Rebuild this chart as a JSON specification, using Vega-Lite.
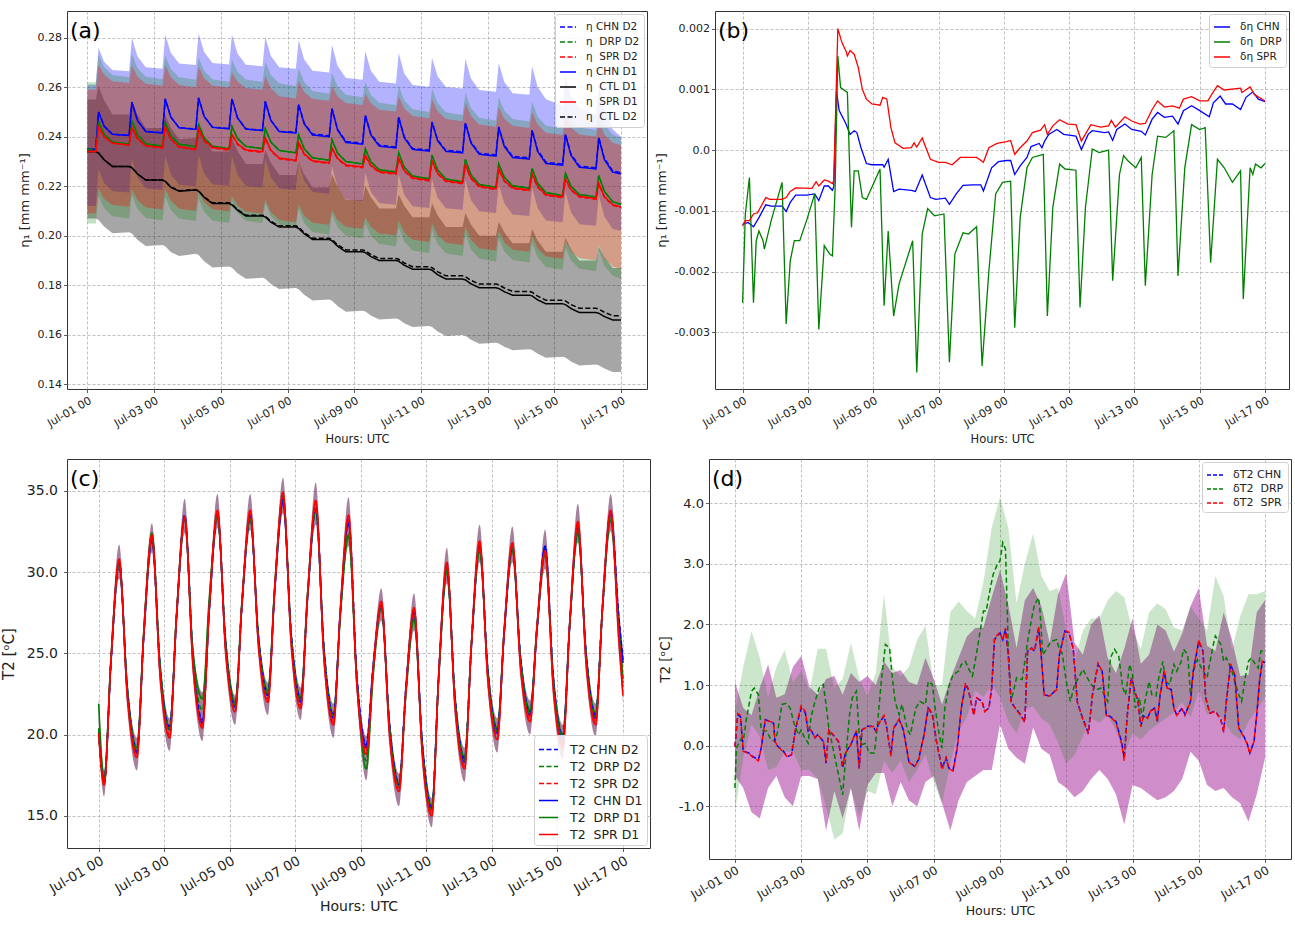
{
"$schema":"https://vega.github.io/schema/vega-lite/v6.json",
"background":"white",
"padding":{"left":0,"top":10,"right":0,"bottom":0},
"config":{
 "font":"DejaVu Sans",
 "view":{"stroke":"#333333","strokeWidth":1},
 "axis":{"domain":false,"grid":true,"gridColor":"#b0b0b0","gridDash":[3,2],"gridWidth":0.8,"tickColor":"#333333","tickSize":3.5,"tickWidth":0.8,"labelColor":"#222222","titleColor":"#222222","titleFontWeight":"normal","labelPadding":2},
 "legend":{"symbolType":"stroke","strokeColor":"#d0d0d0","fillColor":"rgba(255,255,255,0.85)","cornerRadius":3,"symbolStrokeWidth":1.5,"labelColor":"#222222","offset":3,"labelOffset":9},
 "title":{"anchor":"start","fontWeight":"normal","fontSize":22,"offset":-32,"dx":3,"color":"#000000","frame":"group"}
},
"datasets":{
"a":[
{"h":0,"c1":0.235,"c2":0.235,"d":0.235,"s1":0.234,"s2":0.234,"k1":0.234,"k2":0.234,"cl":0.212,"cu":0.261,"dl":0.205,"du":0.262,"sl":0.209,"su":0.259,"kl":0.207,"ku":0.255},
{"h":6,"c1":0.235,"c2":0.235,"d":0.235,"s1":0.234,"s2":0.234,"k1":0.234,"k2":0.234,"cl":0.212,"cu":0.261,"dl":0.205,"du":0.262,"sl":0.209,"su":0.259,"kl":0.207,"ku":0.255},
{"h":8,"c1":0.25,"c2":0.25,"d":0.2462,"s1":0.244,"s2":0.244,"k1":0.2334,"k2":0.2334,"cl":0.227,"cu":0.276,"dl":0.2162,"du":0.2732,"sl":0.219,"su":0.269,"kl":0.2064,"ku":0.2604},
{"h":12,"c1":0.2443,"c2":0.2443,"d":0.2411,"s1":0.24,"s2":0.24,"k1":0.2307,"k2":0.2307,"cl":0.2213,"cu":0.2703,"dl":0.2111,"du":0.2681,"sl":0.215,"su":0.265,"kl":0.2037,"ku":0.2547},
{"h":18,"c1":0.241,"c2":0.241,"d":0.2379,"s1":0.2374,"s2":0.2374,"k1":0.228,"k2":0.228,"cl":0.218,"cu":0.267,"dl":0.2079,"du":0.2649,"sl":0.2124,"su":0.2624,"kl":0.201,"ku":0.249},
{"h":30,"c1":0.2405,"c2":0.2406,"d":0.237,"s1":0.2367,"s2":0.2366,"k1":0.228,"k2":0.228,"cl":0.2175,"cu":0.2665,"dl":0.207,"du":0.264,"sl":0.2117,"su":0.2617,"kl":0.2014,"ku":0.249},
{"h":32,"c1":0.254,"c2":0.254,"d":0.2465,"s1":0.2438,"s2":0.2437,"k1":0.2275,"k2":0.2275,"cl":0.231,"cu":0.28,"dl":0.2165,"du":0.2735,"sl":0.2188,"su":0.2688,"kl":0.2009,"ku":0.2545},
{"h":36,"c1":0.2465,"c2":0.2466,"d":0.2408,"s1":0.2393,"s2":0.2392,"k1":0.225,"k2":0.225,"cl":0.2235,"cu":0.2725,"dl":0.2108,"du":0.2678,"sl":0.2143,"su":0.2643,"kl":0.1984,"ku":0.249},
{"h":42,"c1":0.2421,"c2":0.2422,"d":0.2372,"s1":0.2364,"s2":0.2363,"k1":0.2225,"k2":0.2225,"cl":0.2191,"cu":0.2681,"dl":0.2072,"du":0.2642,"sl":0.2114,"su":0.2614,"kl":0.1959,"ku":0.2435},
{"h":54,"c1":0.2415,"c2":0.2416,"d":0.2362,"s1":0.2356,"s2":0.2355,"k1":0.2225,"k2":0.2225,"cl":0.2185,"cu":0.2675,"dl":0.2062,"du":0.2632,"sl":0.2106,"su":0.2606,"kl":0.1963,"ku":0.2435},
{"h":56,"c1":0.2553,"c2":0.2553,"d":0.2458,"s1":0.244,"s2":0.2439,"k1":0.222,"k2":0.222,"cl":0.2323,"cu":0.2813,"dl":0.2158,"du":0.2728,"sl":0.219,"su":0.269,"kl":0.1958,"ku":0.249},
{"h":60,"c1":0.2479,"c2":0.248,"d":0.2404,"s1":0.2391,"s2":0.239,"k1":0.2196,"k2":0.2197,"cl":0.2249,"cu":0.2739,"dl":0.2104,"du":0.2674,"sl":0.2141,"su":0.2641,"kl":0.1934,"ku":0.2436},
{"h":66,"c1":0.2436,"c2":0.2437,"d":0.237,"s1":0.2359,"s2":0.2358,"k1":0.218,"k2":0.2182,"cl":0.2206,"cu":0.2696,"dl":0.207,"du":0.264,"sl":0.2109,"su":0.2609,"kl":0.1918,"ku":0.239},
{"h":78,"c1":0.243,"c2":0.2431,"d":0.236,"s1":0.235,"s2":0.2347,"k1":0.2185,"k2":0.2187,"cl":0.22,"cu":0.269,"dl":0.206,"du":0.263,"sl":0.21,"su":0.26,"kl":0.1927,"ku":0.2395},
{"h":80,"c1":0.2557,"c2":0.2557,"d":0.245,"s1":0.2432,"s2":0.2429,"k1":0.218,"k2":0.2182,"cl":0.2327,"cu":0.2817,"dl":0.215,"du":0.272,"sl":0.2182,"su":0.2682,"kl":0.1922,"ku":0.245},
{"h":84,"c1":0.2482,"c2":0.2483,"d":0.2396,"s1":0.2386,"s2":0.2383,"k1":0.2155,"k2":0.2157,"cl":0.2252,"cu":0.2742,"dl":0.2096,"du":0.2666,"sl":0.2136,"su":0.2636,"kl":0.1897,"ku":0.2395},
{"h":90,"c1":0.2438,"c2":0.2439,"d":0.2362,"s1":0.2357,"s2":0.2354,"k1":0.213,"k2":0.2133,"cl":0.2208,"cu":0.2698,"dl":0.2062,"du":0.2632,"sl":0.2107,"su":0.2607,"kl":0.1872,"ku":0.234},
{"h":102,"c1":0.2432,"c2":0.2433,"d":0.2352,"s1":0.2349,"s2":0.2346,"k1":0.213,"k2":0.2133,"cl":0.2202,"cu":0.2692,"dl":0.2052,"du":0.2622,"sl":0.2099,"su":0.2599,"kl":0.1876,"ku":0.234},
{"h":104,"c1":0.2553,"c2":0.2553,"d":0.2442,"s1":0.241,"s2":0.2407,"k1":0.2125,"k2":0.2128,"cl":0.2323,"cu":0.2813,"dl":0.2142,"du":0.2712,"sl":0.216,"su":0.266,"kl":0.1871,"ku":0.2395},
{"h":108,"c1":0.2476,"c2":0.2477,"d":0.2393,"s1":0.2372,"s2":0.2369,"k1":0.2103,"k2":0.2106,"cl":0.2246,"cu":0.2736,"dl":0.2093,"du":0.2663,"sl":0.2122,"su":0.2622,"kl":0.1849,"ku":0.2343},
{"h":114,"c1":0.2431,"c2":0.2432,"d":0.2361,"s1":0.2347,"s2":0.2344,"k1":0.208,"k2":0.2083,"cl":0.2201,"cu":0.2691,"dl":0.2061,"du":0.2631,"sl":0.2097,"su":0.2597,"kl":0.1826,"ku":0.229},
{"h":126,"c1":0.2425,"c2":0.2426,"d":0.2352,"s1":0.234,"s2":0.2337,"k1":0.208,"k2":0.2083,"cl":0.2195,"cu":0.2685,"dl":0.2052,"du":0.2622,"sl":0.209,"su":0.259,"kl":0.183,"ku":0.229},
{"h":128,"c1":0.2543,"c2":0.2543,"d":0.2432,"s1":0.2396,"s2":0.2393,"k1":0.2076,"k2":0.2079,"cl":0.2313,"cu":0.2803,"dl":0.2132,"du":0.2702,"sl":0.2146,"su":0.2646,"kl":0.1826,"ku":0.2346},
{"h":132,"c1":0.2466,"c2":0.2467,"d":0.2379,"s1":0.2346,"s2":0.2343,"k1":0.2055,"k2":0.2059,"cl":0.2236,"cu":0.2726,"dl":0.2079,"du":0.2649,"sl":0.2096,"su":0.2596,"kl":0.1805,"ku":0.2295},
{"h":138,"c1":0.2421,"c2":0.2422,"d":0.2345,"s1":0.2314,"s2":0.2311,"k1":0.2035,"k2":0.204,"cl":0.2191,"cu":0.2681,"dl":0.2045,"du":0.2615,"sl":0.2064,"su":0.2564,"kl":0.1785,"ku":0.2245},
{"h":150,"c1":0.2415,"c2":0.2418,"d":0.2335,"s1":0.2305,"s2":0.2302,"k1":0.2035,"k2":0.204,"cl":0.2185,"cu":0.2675,"dl":0.2035,"du":0.2605,"sl":0.2055,"su":0.2555,"kl":0.1789,"ku":0.2245},
{"h":152,"c1":0.253,"c2":0.2531,"d":0.2408,"s1":0.2376,"s2":0.2373,"k1":0.203,"k2":0.2035,"cl":0.23,"cu":0.279,"dl":0.2108,"du":0.2678,"sl":0.2126,"su":0.2626,"kl":0.1784,"ku":0.23},
{"h":156,"c1":0.2452,"c2":0.2455,"d":0.2351,"s1":0.2331,"s2":0.2328,"k1":0.2008,"k2":0.2013,"cl":0.2222,"cu":0.2712,"dl":0.2051,"du":0.2621,"sl":0.2081,"su":0.2581,"kl":0.1762,"ku":0.2248},
{"h":162,"c1":0.2407,"c2":0.2411,"d":0.2315,"s1":0.2303,"s2":0.23,"k1":0.1985,"k2":0.199,"cl":0.2177,"cu":0.2667,"dl":0.2015,"du":0.2585,"sl":0.2053,"su":0.2553,"kl":0.1739,"ku":0.2195},
{"h":174,"c1":0.24,"c2":0.2404,"d":0.2305,"s1":0.2295,"s2":0.2292,"k1":0.1985,"k2":0.199,"cl":0.217,"cu":0.266,"dl":0.2005,"du":0.2575,"sl":0.2045,"su":0.2545,"kl":0.1743,"ku":0.2195},
{"h":176,"c1":0.2512,"c2":0.2514,"d":0.2388,"s1":0.2355,"s2":0.2352,"k1":0.198,"k2":0.1985,"cl":0.2282,"cu":0.2772,"dl":0.2088,"du":0.2658,"sl":0.2105,"su":0.2605,"kl":0.1738,"ku":0.225},
{"h":180,"c1":0.2427,"c2":0.2431,"d":0.2334,"s1":0.2313,"s2":0.231,"k1":0.1958,"k2":0.1964,"cl":0.2197,"cu":0.2687,"dl":0.2034,"du":0.2604,"sl":0.2063,"su":0.2563,"kl":0.1716,"ku":0.2198},
{"h":186,"c1":0.2377,"c2":0.2381,"d":0.23,"s1":0.2286,"s2":0.2283,"k1":0.1935,"k2":0.1943,"cl":0.2147,"cu":0.2637,"dl":0.2,"du":0.257,"sl":0.2036,"su":0.2536,"kl":0.1693,"ku":0.2145},
{"h":198,"c1":0.237,"c2":0.2374,"d":0.229,"s1":0.2278,"s2":0.2275,"k1":0.1935,"k2":0.1943,"cl":0.214,"cu":0.263,"dl":0.199,"du":0.256,"sl":0.2028,"su":0.2528,"kl":0.1697,"ku":0.2145},
{"h":200,"c1":0.2485,"c2":0.2487,"d":0.235,"s1":0.2325,"s2":0.2322,"k1":0.1932,"k2":0.194,"cl":0.2255,"cu":0.2745,"dl":0.205,"du":0.262,"sl":0.2075,"su":0.2575,"kl":0.1694,"ku":0.2202},
{"h":204,"c1":0.2407,"c2":0.2411,"d":0.2299,"s1":0.2285,"s2":0.2282,"k1":0.1916,"k2":0.1924,"cl":0.2177,"cu":0.2667,"dl":0.1999,"du":0.2569,"sl":0.2035,"su":0.2535,"kl":0.1678,"ku":0.2156},
{"h":210,"c1":0.2362,"c2":0.2366,"d":0.2267,"s1":0.2259,"s2":0.2256,"k1":0.19,"k2":0.1908,"cl":0.2132,"cu":0.2622,"dl":0.1967,"du":0.2537,"sl":0.2009,"su":0.2509,"kl":0.1662,"ku":0.211},
{"h":222,"c1":0.2355,"c2":0.2359,"d":0.2258,"s1":0.2252,"s2":0.2249,"k1":0.19,"k2":0.1908,"cl":0.2125,"cu":0.2615,"dl":0.1958,"du":0.2528,"sl":0.2002,"su":0.2502,"kl":0.1666,"ku":0.211},
{"h":224,"c1":0.2478,"c2":0.248,"d":0.2335,"s1":0.2312,"s2":0.2309,"k1":0.1897,"k2":0.1905,"cl":0.2248,"cu":0.2738,"dl":0.2035,"du":0.2605,"sl":0.2062,"su":0.2562,"kl":0.1663,"ku":0.2167},
{"h":228,"c1":0.2396,"c2":0.24,"d":0.2277,"s1":0.2264,"s2":0.2261,"k1":0.1881,"k2":0.189,"cl":0.2166,"cu":0.2656,"dl":0.1977,"du":0.2547,"sl":0.2014,"su":0.2514,"kl":0.1647,"ku":0.2121},
{"h":234,"c1":0.2349,"c2":0.2353,"d":0.2241,"s1":0.2234,"s2":0.2231,"k1":0.1865,"k2":0.1875,"cl":0.2119,"cu":0.2609,"dl":0.1941,"du":0.2511,"sl":0.1984,"su":0.2484,"kl":0.1631,"ku":0.2075},
{"h":246,"c1":0.2342,"c2":0.2346,"d":0.223,"s1":0.2225,"s2":0.2222,"k1":0.1865,"k2":0.1875,"cl":0.2112,"cu":0.2602,"dl":0.193,"du":0.25,"sl":0.1975,"su":0.2475,"kl":0.1635,"ku":0.2075},
{"h":248,"c1":0.2458,"c2":0.246,"d":0.2325,"s1":0.2302,"s2":0.2299,"k1":0.1861,"k2":0.1871,"cl":0.2228,"cu":0.2718,"dl":0.2025,"du":0.2595,"sl":0.2052,"su":0.2552,"kl":0.1631,"ku":0.2131},
{"h":252,"c1":0.2384,"c2":0.2388,"d":0.2266,"s1":0.2253,"s2":0.225,"k1":0.1843,"k2":0.1855,"cl":0.2154,"cu":0.2644,"dl":0.1966,"du":0.2536,"sl":0.2003,"su":0.2503,"kl":0.1613,"ku":0.2083},
{"h":258,"c1":0.2341,"c2":0.2345,"d":0.2229,"s1":0.2222,"s2":0.2219,"k1":0.1825,"k2":0.1838,"cl":0.2111,"cu":0.2601,"dl":0.1929,"du":0.2499,"sl":0.1972,"su":0.2472,"kl":0.1595,"ku":0.2035},
{"h":270,"c1":0.2335,"c2":0.2339,"d":0.2218,"s1":0.2213,"s2":0.221,"k1":0.1825,"k2":0.1838,"cl":0.2105,"cu":0.2595,"dl":0.1918,"du":0.2488,"sl":0.1963,"su":0.2463,"kl":0.1599,"ku":0.2035},
{"h":272,"c1":0.2455,"c2":0.2457,"d":0.2308,"s1":0.2287,"s2":0.2284,"k1":0.1822,"k2":0.1835,"cl":0.2225,"cu":0.2715,"dl":0.2008,"du":0.2578,"sl":0.2037,"su":0.2537,"kl":0.1596,"ku":0.2092},
{"h":276,"c1":0.2375,"c2":0.2379,"d":0.2246,"s1":0.2234,"s2":0.2231,"k1":0.1806,"k2":0.182,"cl":0.2145,"cu":0.2635,"dl":0.1946,"du":0.2516,"sl":0.1984,"su":0.2484,"kl":0.158,"ku":0.2046},
{"h":282,"c1":0.2329,"c2":0.2333,"d":0.2207,"s1":0.22,"s2":0.2197,"k1":0.179,"k2":0.1805,"cl":0.2099,"cu":0.2589,"dl":0.1907,"du":0.2477,"sl":0.195,"su":0.245,"kl":0.1564,"ku":0.2},
{"h":294,"c1":0.2322,"c2":0.2327,"d":0.2196,"s1":0.219,"s2":0.2187,"k1":0.179,"k2":0.1805,"cl":0.2092,"cu":0.2582,"dl":0.1896,"du":0.2466,"sl":0.194,"su":0.244,"kl":0.1568,"ku":0.2},
{"h":296,"c1":0.2438,"c2":0.244,"d":0.229,"s1":0.227,"s2":0.2267,"k1":0.1787,"k2":0.1802,"cl":0.2208,"cu":0.2698,"dl":0.199,"du":0.256,"sl":0.202,"su":0.252,"kl":0.1565,"ku":0.2057},
{"h":300,"c1":0.2361,"c2":0.2366,"d":0.2236,"s1":0.2223,"s2":0.222,"k1":0.1774,"k2":0.1789,"cl":0.2131,"cu":0.2621,"dl":0.1936,"du":0.2506,"sl":0.1973,"su":0.2473,"kl":0.1552,"ku":0.2014},
{"h":306,"c1":0.2316,"c2":0.2321,"d":0.2202,"s1":0.2194,"s2":0.2191,"k1":0.176,"k2":0.1775,"cl":0.2086,"cu":0.2576,"dl":0.1902,"du":0.2472,"sl":0.1944,"su":0.2444,"kl":0.1538,"ku":0.197},
{"h":318,"c1":0.231,"c2":0.2315,"d":0.2192,"s1":0.2185,"s2":0.2182,"k1":0.176,"k2":0.1775,"cl":0.208,"cu":0.257,"dl":0.1892,"du":0.2462,"sl":0.1935,"su":0.2435,"kl":0.1542,"ku":0.197},
{"h":320,"c1":0.2425,"c2":0.2428,"d":0.2272,"s1":0.225,"s2":0.2247,"k1":0.1757,"k2":0.1772,"cl":0.2195,"cu":0.2685,"dl":0.1972,"du":0.2542,"sl":0.2,"su":0.25,"kl":0.1539,"ku":0.2027},
{"h":324,"c1":0.2341,"c2":0.2346,"d":0.2212,"s1":0.2199,"s2":0.2196,"k1":0.1741,"k2":0.1756,"cl":0.2111,"cu":0.2601,"dl":0.1912,"du":0.2482,"sl":0.1949,"su":0.2449,"kl":0.1523,"ku":0.1981},
{"h":330,"c1":0.2292,"c2":0.2297,"d":0.2174,"s1":0.2166,"s2":0.2163,"k1":0.1725,"k2":0.174,"cl":0.2062,"cu":0.2552,"dl":0.1874,"du":0.2444,"sl":0.1916,"su":0.2416,"kl":0.1507,"ku":0.1935},
{"h":342,"c1":0.2285,"c2":0.229,"d":0.2163,"s1":0.2157,"s2":0.2154,"k1":0.1725,"k2":0.174,"cl":0.2055,"cu":0.2525,"dl":0.1863,"du":0.2433,"sl":0.1907,"su":0.2407,"kl":0.1511,"ku":0.1935},
{"h":344,"c1":0.2408,"c2":0.2411,"d":0.2252,"s1":0.223,"s2":0.2227,"k1":0.1722,"k2":0.1737,"cl":0.2178,"cu":0.2648,"dl":0.1952,"du":0.2522,"sl":0.198,"su":0.248,"kl":0.1508,"ku":0.1992},
{"h":348,"c1":0.2325,"c2":0.233,"d":0.22,"s1":0.2187,"s2":0.2184,"k1":0.1706,"k2":0.1722,"cl":0.2095,"cu":0.2565,"dl":0.19,"du":0.247,"sl":0.1937,"su":0.2437,"kl":0.1492,"ku":0.1946},
{"h":354,"c1":0.2277,"c2":0.2282,"d":0.2167,"s1":0.2159,"s2":0.2156,"k1":0.169,"k2":0.1707,"cl":0.2047,"cu":0.2517,"dl":0.1867,"du":0.2437,"sl":0.1909,"su":0.2409,"kl":0.1476,"ku":0.19},
{"h":366,"c1":0.227,"c2":0.2275,"d":0.2157,"s1":0.2151,"s2":0.2148,"k1":0.169,"k2":0.1707,"cl":0.204,"cu":0.249,"dl":0.1857,"du":0.2427,"sl":0.1901,"su":0.2401,"kl":0.148,"ku":0.19},
{"h":368,"c1":0.2395,"c2":0.2398,"d":0.2243,"s1":0.2212,"s2":0.2209,"k1":0.1687,"k2":0.1704,"cl":0.2165,"cu":0.2615,"dl":0.1943,"du":0.2513,"sl":0.1962,"su":0.2462,"kl":0.1477,"ku":0.1957},
{"h":372,"c1":0.2308,"c2":0.2313,"d":0.2179,"s1":0.2159,"s2":0.2156,"k1":0.1674,"k2":0.1691,"cl":0.2078,"cu":0.251,"dl":0.1879,"du":0.2449,"sl":0.1909,"su":0.2409,"kl":0.1464,"ku":0.1914},
{"h":378,"c1":0.2257,"c2":0.2262,"d":0.2138,"s1":0.2126,"s2":0.2123,"k1":0.166,"k2":0.1677,"cl":0.2027,"cu":0.243,"dl":0.1838,"du":0.2408,"sl":0.1876,"su":0.2376,"kl":0.145,"ku":0.187},
{"h":384,"c1":0.225,"c2":0.2255,"d":0.2126,"s1":0.2116,"s2":0.2113,"k1":0.166,"k2":0.1677,"cl":0.202,"cu":0.24,"dl":0.1826,"du":0.2396,"sl":0.1866,"su":0.2366,"kl":0.145,"ku":0.187}
],
"b":[
{"s":"CHN","h":0,"v":-0.00122},{"s":"CHN","h":4,"v":-0.00119},{"s":"CHN","h":8,"v":-0.00126},{"s":"CHN","h":12,"v":-0.00111},{"s":"CHN","h":17,"v":-0.0009},{"s":"CHN","h":21,"v":-0.00092},{"s":"CHN","h":29,"v":-0.00092},{"s":"CHN","h":32,"v":-0.00101},{"s":"CHN","h":35,"v":-0.00086},{"s":"CHN","h":39,"v":-0.00074},{"s":"CHN","h":47,"v":-0.00074},{"s":"CHN","h":53,"v":-0.00072},{"s":"CHN","h":56,"v":-0.00083},{"s":"CHN","h":60,"v":-0.00059},{"s":"CHN","h":63,"v":-0.00059},{"s":"CHN","h":66,"v":-0.00066},{"s":"CHN","h":67,"v":-0.0006},{"s":"CHN","h":69,"v":0.00097},{"s":"CHN","h":71,"v":0.00065},{"s":"CHN","h":76,"v":0.00043},{"s":"CHN","h":79,"v":0.00026},{"s":"CHN","h":82,"v":0.00032},{"s":"CHN","h":84,"v":0.00029},{"s":"CHN","h":87,"v":0.00004},{"s":"CHN","h":91,"v":-0.00022},{"s":"CHN","h":95,"v":-0.00024},{"s":"CHN","h":103,"v":-0.00024},{"s":"CHN","h":104,"v":-0.00028},{"s":"CHN","h":107,"v":-0.00015},{"s":"CHN","h":111,"v":-0.00068},{"s":"CHN","h":115,"v":-0.00064},{"s":"CHN","h":124,"v":-0.00066},{"s":"CHN","h":127,"v":-0.00068},{"s":"CHN","h":132,"v":-0.00041},{"s":"CHN","h":138,"v":-0.00078},{"s":"CHN","h":142,"v":-0.00081},{"s":"CHN","h":149,"v":-0.00079},{"s":"CHN","h":152,"v":-0.00089},{"s":"CHN","h":157,"v":-0.00072},{"s":"CHN","h":162,"v":-0.00058},{"s":"CHN","h":169,"v":-0.00057},{"s":"CHN","h":175,"v":-0.00057},{"s":"CHN","h":177,"v":-0.00067},{"s":"CHN","h":183,"v":-0.00029},{"s":"CHN","h":188,"v":-0.00019},{"s":"CHN","h":194,"v":-0.00017},{"s":"CHN","h":197,"v":-0.00017},{"s":"CHN","h":200,"v":-0.0004},{"s":"CHN","h":204,"v":-0.00026},{"s":"CHN","h":209,"v":-0.00012},{"s":"CHN","h":212,"v":0.00006},{"s":"CHN","h":218,"v":0.00011},{"s":"CHN","h":220,"v":0.00004},{"s":"CHN","h":222,"v":0.00015},{"s":"CHN","h":225,"v":0.00026},{"s":"CHN","h":231,"v":0.00034},{"s":"CHN","h":236,"v":0.00026},{"s":"CHN","h":245,"v":0.00023},{"s":"CHN","h":249,"v":0.00001},{"s":"CHN","h":254,"v":0.00026},{"s":"CHN","h":257,"v":0.00032},{"s":"CHN","h":266,"v":0.00029},{"s":"CHN","h":269,"v":0.0003},{"s":"CHN","h":272,"v":0.00016},{"s":"CHN","h":275,"v":0.00034},{"s":"CHN","h":281,"v":0.00043},{"s":"CHN","h":286,"v":0.00034},{"s":"CHN","h":293,"v":0.00031},{"s":"CHN","h":296,"v":0.00025},{"s":"CHN","h":301,"v":0.00051},{"s":"CHN","h":305,"v":0.00062},{"s":"CHN","h":310,"v":0.00054},{"s":"CHN","h":316,"v":0.00056},{"s":"CHN","h":320,"v":0.00043},{"s":"CHN","h":324,"v":0.00065},{"s":"CHN","h":330,"v":0.00073},{"s":"CHN","h":336,"v":0.00065},{"s":"CHN","h":343,"v":0.00055},{"s":"CHN","h":346,"v":0.00078},{"s":"CHN","h":351,"v":0.00089},{"s":"CHN","h":355,"v":0.00076},{"s":"CHN","h":360,"v":0.00076},{"s":"CHN","h":366,"v":0.00067},{"s":"CHN","h":370,"v":0.00087},{"s":"CHN","h":375,"v":0.00096},{"s":"CHN","h":379,"v":0.00084},{"s":"CHN","h":384,"v":0.0008},
{"s":"DRP","h":0,"v":-0.00251},{"s":"DRP","h":2,"v":-0.00105},{"s":"DRP","h":5,"v":-0.00045},{"s":"DRP","h":8,"v":-0.00251},{"s":"DRP","h":10,"v":-0.00149},{"s":"DRP","h":12,"v":-0.00133},{"s":"DRP","h":15,"v":-0.00149},{"s":"DRP","h":16,"v":-0.00163},{"s":"DRP","h":18,"v":-0.00144},{"s":"DRP","h":21,"v":-0.00116},{"s":"DRP","h":29,"v":-0.00053},{"s":"DRP","h":32,"v":-0.00286},{"s":"DRP","h":35,"v":-0.00182},{"s":"DRP","h":38,"v":-0.00149},{"s":"DRP","h":42,"v":-0.00149},{"s":"DRP","h":47,"v":-0.00116},{"s":"DRP","h":53,"v":-0.00072},{"s":"DRP","h":56,"v":-0.00295},{"s":"DRP","h":60,"v":-0.00157},{"s":"DRP","h":64,"v":-0.00171},{"s":"DRP","h":66,"v":-0.00174},{"s":"DRP","h":68,"v":-0.00062},{"s":"DRP","h":70,"v":0.00155},{"s":"DRP","h":72,"v":0.00103},{"s":"DRP","h":77,"v":0.00095},{"s":"DRP","h":80,"v":-0.00127},{"s":"DRP","h":82,"v":-0.00034},{"s":"DRP","h":85,"v":-0.00034},{"s":"DRP","h":88,"v":-0.00078},{"s":"DRP","h":91,"v":-0.00081},{"s":"DRP","h":101,"v":-0.00031},{"s":"DRP","h":104,"v":-0.00256},{"s":"DRP","h":107,"v":-0.00133},{"s":"DRP","h":111,"v":-0.00273},{"s":"DRP","h":115,"v":-0.0022},{"s":"DRP","h":125,"v":-0.00149},{"s":"DRP","h":128,"v":-0.00366},{"s":"DRP","h":132,"v":-0.00138},{"s":"DRP","h":136,"v":-0.00096},{"s":"DRP","h":141,"v":-0.00108},{"s":"DRP","h":148,"v":-0.00105},{"s":"DRP","h":152,"v":-0.00349},{"s":"DRP","h":156,"v":-0.00171},{"s":"DRP","h":162,"v":-0.00136},{"s":"DRP","h":166,"v":-0.00138},{"s":"DRP","h":172,"v":-0.00126},{"s":"DRP","h":176,"v":-0.00355},{"s":"DRP","h":181,"v":-0.00199},{"s":"DRP","h":186,"v":-0.00072},{"s":"DRP","h":191,"v":-0.00053},{"s":"DRP","h":197,"v":-0.00051},{"s":"DRP","h":200,"v":-0.00292},{"s":"DRP","h":204,"v":-0.00111},{"s":"DRP","h":209,"v":-0.00029},{"s":"DRP","h":213,"v":-0.00012},{"s":"DRP","h":221,"v":-0.00007},{"s":"DRP","h":224,"v":-0.00273},{"s":"DRP","h":228,"v":-0.00094},{"s":"DRP","h":233,"v":-0.00023},{"s":"DRP","h":237,"v":-0.00031},{"s":"DRP","h":245,"v":-0.00033},{"s":"DRP","h":248,"v":-0.00259},{"s":"DRP","h":252,"v":-0.00094},{"s":"DRP","h":257,"v":0.00002},{"s":"DRP","h":262,"v":-0.00004},{"s":"DRP","h":269,"v":0.0},{"s":"DRP","h":272,"v":-0.00215},{"s":"DRP","h":277,"v":-0.0004},{"s":"DRP","h":280,"v":-0.00009},{"s":"DRP","h":283,"v":-0.00017},{"s":"DRP","h":289,"v":-0.00029},{"s":"DRP","h":293,"v":-0.00012},{"s":"DRP","h":296,"v":-0.00223},{"s":"DRP","h":301,"v":-0.0004},{"s":"DRP","h":305,"v":0.00023},{"s":"DRP","h":311,"v":0.00021},{"s":"DRP","h":317,"v":0.00032},{"s":"DRP","h":320,"v":-0.00207},{"s":"DRP","h":325,"v":-0.00029},{"s":"DRP","h":330,"v":0.00042},{"s":"DRP","h":336,"v":0.00034},{"s":"DRP","h":340,"v":0.00037},{"s":"DRP","h":344,"v":-0.00185},{"s":"DRP","h":349,"v":-0.00015},{"s":"DRP","h":354,"v":-0.00029},{"s":"DRP","h":360,"v":-0.00053},{"s":"DRP","h":366,"v":-0.00034},{"s":"DRP","h":368,"v":-0.00245},{"s":"DRP","h":373,"v":-0.00029},{"s":"DRP","h":375,"v":-0.0004},{"s":"DRP","h":377,"v":-0.00023},{"s":"DRP","h":381,"v":-0.00029},{"s":"DRP","h":384,"v":-0.00022},
{"s":"SPR","h":0,"v":-0.00125},{"s":"SPR","h":2,"v":-0.00116},{"s":"SPR","h":5,"v":-0.00116},{"s":"SPR","h":8,"v":-0.00105},{"s":"SPR","h":11,"v":-0.00103},{"s":"SPR","h":17,"v":-0.00078},{"s":"SPR","h":20,"v":-0.00081},{"s":"SPR","h":29,"v":-0.00081},{"s":"SPR","h":32,"v":-0.00078},{"s":"SPR","h":35,"v":-0.00068},{"s":"SPR","h":39,"v":-0.00062},{"s":"SPR","h":51,"v":-0.00063},{"s":"SPR","h":54,"v":-0.00052},{"s":"SPR","h":56,"v":-0.00059},{"s":"SPR","h":60,"v":-0.00049},{"s":"SPR","h":63,"v":-0.00051},{"s":"SPR","h":66,"v":-0.00055},{"s":"SPR","h":67,"v":-0.0005},{"s":"SPR","h":70,"v":0.002},{"s":"SPR","h":73,"v":0.00177},{"s":"SPR","h":76,"v":0.00163},{"s":"SPR","h":77,"v":0.00155},{"s":"SPR","h":79,"v":0.00164},{"s":"SPR","h":82,"v":0.00158},{"s":"SPR","h":85,"v":0.00136},{"s":"SPR","h":88,"v":0.001},{"s":"SPR","h":91,"v":0.00084},{"s":"SPR","h":95,"v":0.00076},{"s":"SPR","h":101,"v":0.00074},{"s":"SPR","h":103,"v":0.00087},{"s":"SPR","h":106,"v":0.00084},{"s":"SPR","h":109,"v":0.00037},{"s":"SPR","h":112,"v":0.00012},{"s":"SPR","h":118,"v":0.00003},{"s":"SPR","h":124,"v":0.00004},{"s":"SPR","h":126,"v":0.00012},{"s":"SPR","h":128,"v":0.00005},{"s":"SPR","h":132,"v":0.0002},{"s":"SPR","h":138,"v":-0.00015},{"s":"SPR","h":144,"v":-0.0002},{"s":"SPR","h":149,"v":-0.0002},{"s":"SPR","h":154,"v":-0.00024},{"s":"SPR","h":160,"v":-0.00012},{"s":"SPR","h":172,"v":-0.00012},{"s":"SPR","h":177,"v":-0.0002},{"s":"SPR","h":181,"v":0.00004},{"s":"SPR","h":187,"v":0.00011},{"s":"SPR","h":194,"v":0.00014},{"s":"SPR","h":197,"v":0.00016},{"s":"SPR","h":200,"v":-0.00007},{"s":"SPR","h":204,"v":0.00004},{"s":"SPR","h":209,"v":0.00015},{"s":"SPR","h":213,"v":0.00029},{"s":"SPR","h":219,"v":0.00033},{"s":"SPR","h":222,"v":0.00042},{"s":"SPR","h":224,"v":0.00026},{"s":"SPR","h":228,"v":0.0004},{"s":"SPR","h":233,"v":0.0005},{"s":"SPR","h":239,"v":0.00043},{"s":"SPR","h":245,"v":0.00042},{"s":"SPR","h":249,"v":0.00015},{"s":"SPR","h":256,"v":0.00042},{"s":"SPR","h":263,"v":0.00038},{"s":"SPR","h":269,"v":0.0004},{"s":"SPR","h":271,"v":0.00049},{"s":"SPR","h":274,"v":0.00038},{"s":"SPR","h":281,"v":0.00055},{"s":"SPR","h":286,"v":0.00048},{"s":"SPR","h":292,"v":0.00043},{"s":"SPR","h":296,"v":0.00044},{"s":"SPR","h":301,"v":0.00067},{"s":"SPR","h":305,"v":0.00081},{"s":"SPR","h":310,"v":0.00071},{"s":"SPR","h":316,"v":0.00073},{"s":"SPR","h":321,"v":0.00069},{"s":"SPR","h":324,"v":0.00084},{"s":"SPR","h":330,"v":0.00088},{"s":"SPR","h":336,"v":0.00081},{"s":"SPR","h":342,"v":0.00081},{"s":"SPR","h":344,"v":0.00089},{"s":"SPR","h":349,"v":0.00106},{"s":"SPR","h":354,"v":0.00099},{"s":"SPR","h":366,"v":0.00102},{"s":"SPR","h":367,"v":0.00095},{"s":"SPR","h":373,"v":0.00104},{"s":"SPR","h":376,"v":0.00092},{"s":"SPR","h":384,"v":0.00081}
],
"c":[
{"h":0,"s1":20,"s2":20.1,"c1":20.3,"c2":20.2,"g1":21.9,"g2":20.4,"lo":19.5,"hi":22.3},
{"h":4,"s1":16.9,"s2":17,"c1":17.1,"c2":17,"g1":17.3,"g2":17.1,"lo":16.2,"hi":17.8},
{"h":9,"s1":24.6,"s2":24.5,"c1":24.4,"c2":24.5,"g1":24.7,"g2":24.6,"lo":23.8,"hi":25.3},
{"h":15,"s1":30.8,"s2":30.6,"c1":30.6,"c2":30.5,"g1":30.5,"g2":30.6,"lo":29.6,"hi":31.7},
{"h":21,"s1":22.3,"s2":22.5,"c1":22.6,"c2":22.8,"g1":22.9,"g2":22.7,"lo":21.6,"hi":23.4},
{"h":28,"s1":18.6,"s2":18.8,"c1":18.9,"c2":19,"g1":19.2,"g2":19,"lo":17.8,"hi":19.8},
{"h":33,"s1":26.2,"s2":26.1,"c1":26,"c2":26.1,"g1":26.3,"g2":26.2,"lo":25.4,"hi":26.9},
{"h":39,"s1":32.3,"s2":32.1,"c1":32,"c2":32.1,"g1":32.4,"g2":32.2,"lo":31.2,"hi":33},
{"h":45,"s1":23.6,"s2":23.8,"c1":23.9,"c2":24.1,"g1":24.3,"g2":24,"lo":22.9,"hi":24.8},
{"h":52,"s1":19.8,"s2":20,"c1":20.3,"c2":20.5,"g1":20.4,"g2":20.2,"lo":19,"hi":21},
{"h":57,"s1":27.3,"s2":27.2,"c1":27.1,"c2":27.2,"g1":27.4,"g2":27.3,"lo":26.5,"hi":28},
{"h":63,"s1":33.4,"s2":33.3,"c1":33.4,"c2":33.5,"g1":33.3,"g2":33.2,"lo":32.4,"hi":34.5},
{"h":69,"s1":24.3,"s2":24.5,"c1":24.7,"c2":24.9,"g1":25.2,"g2":24.9,"lo":23.6,"hi":25.6},
{"h":76,"s1":20.4,"s2":20.6,"c1":20.7,"c2":20.9,"g1":22.2,"g2":21.5,"lo":19.6,"hi":22.6},
{"h":81,"s1":27.8,"s2":27.7,"c1":27.6,"c2":27.7,"g1":28.4,"g2":28,"lo":27,"hi":28.8},
{"h":87,"s1":33.8,"s2":33.6,"c1":33.5,"c2":33.6,"g1":33.4,"g2":33.5,"lo":32.7,"hi":34.8},
{"h":93,"s1":25.1,"s2":25.3,"c1":25.4,"c2":25.6,"g1":25.8,"g2":25.5,"lo":24.4,"hi":26.3},
{"h":100,"s1":21.4,"s2":21.5,"c1":21.7,"c2":21.8,"g1":22,"g2":21.8,"lo":20.6,"hi":22.4},
{"h":105,"s1":28.2,"s2":28.1,"c1":28,"c2":28.1,"g1":28.3,"g2":28.2,"lo":27.4,"hi":28.9},
{"h":111,"s1":33.8,"s2":33.6,"c1":33.4,"c2":33.5,"g1":33.3,"g2":33.4,"lo":32.6,"hi":34.8},
{"h":117,"s1":25.5,"s2":25.7,"c1":25.8,"c2":26,"g1":26.1,"g2":25.9,"lo":24.8,"hi":26.6},
{"h":124,"s1":22,"s2":22.2,"c1":22.4,"c2":22.5,"g1":22.7,"g2":22.5,"lo":21.2,"hi":23.2},
{"h":129,"s1":29.1,"s2":29,"c1":28.9,"c2":29,"g1":29.2,"g2":29.1,"lo":28.3,"hi":29.8},
{"h":135,"s1":34.9,"s2":34.6,"c1":34.3,"c2":34.5,"g1":34.6,"g2":34.7,"lo":33.6,"hi":35.8},
{"h":141,"s1":25.6,"s2":25.8,"c1":26,"c2":26.2,"g1":26.2,"g2":26,"lo":24.9,"hi":26.8},
{"h":148,"s1":21.6,"s2":21.8,"c1":22,"c2":22.2,"g1":22.3,"g2":22.1,"lo":20.9,"hi":22.9},
{"h":153,"s1":28.6,"s2":28.5,"c1":28.4,"c2":28.5,"g1":28.7,"g2":28.6,"lo":27.8,"hi":29.3},
{"h":159,"s1":34.4,"s2":34.2,"c1":33.9,"c2":34,"g1":33.8,"g2":34,"lo":32.9,"hi":35.5},
{"h":165,"s1":24.7,"s2":24.9,"c1":25.1,"c2":25.3,"g1":25.3,"g2":25.1,"lo":24,"hi":25.9},
{"h":172,"s1":20.6,"s2":20.8,"c1":21,"c2":21.2,"g1":21.2,"g2":21,"lo":19.8,"hi":21.9},
{"h":177,"s1":27.7,"s2":27.6,"c1":27.5,"c2":27.6,"g1":27.3,"g2":27.5,"lo":26.9,"hi":28.4},
{"h":183,"s1":33.5,"s2":33.3,"c1":33,"c2":33.2,"g1":32.2,"g2":32.4,"lo":31.6,"hi":34.6},
{"h":189,"s1":23.2,"s2":23.4,"c1":23.6,"c2":23.8,"g1":23.5,"g2":23.4,"lo":22.5,"hi":24.3},
{"h":196,"s1":18.8,"s2":19,"c1":19.2,"c2":19.4,"g1":17.9,"g2":18.4,"lo":17.2,"hi":19.9},
{"h":201,"s1":24,"s2":24,"c1":24.1,"c2":24.2,"g1":23.6,"g2":23.8,"lo":23.2,"hi":24.8},
{"h":207,"s1":28.2,"s2":28,"c1":27.9,"c2":28,"g1":27.8,"g2":27.9,"lo":27,"hi":29},
{"h":213,"s1":20,"s2":20.2,"c1":20.5,"c2":20.7,"g1":20.6,"g2":20.4,"lo":19.3,"hi":21.3},
{"h":220,"s1":16.5,"s2":16.7,"c1":16.9,"c2":17,"g1":17,"g2":16.8,"lo":15.6,"hi":17.6},
{"h":225,"s1":22.7,"s2":22.7,"c1":22.8,"c2":22.9,"g1":22.5,"g2":22.6,"lo":21.9,"hi":23.5},
{"h":231,"s1":27.8,"s2":27.7,"c1":27.5,"c2":27.6,"g1":27.1,"g2":27.3,"lo":26.4,"hi":28.7},
{"h":237,"s1":18.8,"s2":19,"c1":19.3,"c2":19.5,"g1":19.4,"g2":19.2,"lo":18.1,"hi":20.1},
{"h":244,"s1":15,"s2":15.2,"c1":15.4,"c2":15.5,"g1":15.6,"g2":15.4,"lo":14.3,"hi":16.1},
{"h":249,"s1":23.6,"s2":23.5,"c1":23.5,"c2":23.6,"g1":23.4,"g2":23.5,"lo":22.8,"hi":24.3},
{"h":255,"s1":30.6,"s2":30.4,"c1":30.2,"c2":30.3,"g1":30,"g2":30.2,"lo":29.3,"hi":31.5},
{"h":261,"s1":21.7,"s2":21.9,"c1":22.1,"c2":22.3,"g1":22.3,"g2":22.1,"lo":21,"hi":22.9},
{"h":268,"s1":17.9,"s2":18.1,"c1":18.3,"c2":18.5,"g1":18.6,"g2":18.4,"lo":17.1,"hi":19.2},
{"h":273,"s1":25.6,"s2":25.5,"c1":25.4,"c2":25.5,"g1":25.6,"g2":25.6,"lo":24.8,"hi":26.3},
{"h":279,"s1":31.9,"s2":31.7,"c1":31.6,"c2":31.7,"g1":31.3,"g2":31.5,"lo":30.6,"hi":32.9},
{"h":285,"s1":23.4,"s2":23.6,"c1":23.8,"c2":24,"g1":24,"g2":23.8,"lo":22.7,"hi":24.6},
{"h":292,"s1":19.7,"s2":19.9,"c1":20.1,"c2":20.3,"g1":20.4,"g2":20.2,"lo":18.9,"hi":21},
{"h":297,"s1":26.4,"s2":26.3,"c1":26.2,"c2":26.3,"g1":26.4,"g2":26.4,"lo":25.6,"hi":27.1},
{"h":303,"s1":31.8,"s2":31.6,"c1":31.5,"c2":31.6,"g1":31.3,"g2":31.5,"lo":30.6,"hi":32.8},
{"h":309,"s1":24.1,"s2":24.3,"c1":24.5,"c2":24.7,"g1":24.7,"g2":24.5,"lo":23.4,"hi":25.3},
{"h":316,"s1":20.8,"s2":21,"c1":21.2,"c2":21.4,"g1":21.5,"g2":21.3,"lo":20,"hi":22.1},
{"h":321,"s1":26.6,"s2":26.5,"c1":26.4,"c2":26.5,"g1":26.6,"g2":26.6,"lo":25.8,"hi":27.3},
{"h":327,"s1":31.3,"s2":31.2,"c1":31.5,"c2":31.6,"g1":31.1,"g2":31.2,"lo":30.2,"hi":32.6},
{"h":333,"s1":22.8,"s2":23,"c1":23.3,"c2":23.5,"g1":23.5,"g2":23.2,"lo":22.1,"hi":24.1},
{"h":340,"s1":19.2,"s2":19.4,"c1":19.7,"c2":19.9,"g1":20,"g2":19.8,"lo":18.5,"hi":20.6},
{"h":345,"s1":26.9,"s2":26.8,"c1":26.7,"c2":26.8,"g1":26.8,"g2":26.8,"lo":26.1,"hi":27.6},
{"h":351,"s1":33.1,"s2":32.9,"c1":32.7,"c2":32.8,"g1":32.4,"g2":32.6,"lo":31.8,"hi":34.2},
{"h":357,"s1":24.4,"s2":24.6,"c1":24.8,"c2":25,"g1":25,"g2":24.8,"lo":23.7,"hi":25.6},
{"h":364,"s1":20.6,"s2":20.8,"c1":21,"c2":21.2,"g1":21.3,"g2":21.1,"lo":19.9,"hi":21.9},
{"h":369,"s1":27.9,"s2":27.8,"c1":27.7,"c2":27.8,"g1":27.8,"g2":27.8,"lo":27.1,"hi":28.6},
{"h":375,"s1":33.8,"s2":33.6,"c1":33.6,"c2":33.7,"g1":33.2,"g2":33.4,"lo":32.5,"hi":34.8},
{"h":381,"s1":25.8,"s2":26.2,"c1":27,"c2":27.2,"g1":26.6,"g2":26.4,"lo":25,"hi":27.8},
{"h":384,"s1":22.4,"s2":22.8,"c1":24.4,"c2":24.6,"g1":23.4,"g2":23.2,"lo":22,"hi":25.2}
],
"dl":[
{"h":0,"c":-0.02,"s":-0.02},{"h":2,"c":0.51,"s":0.53},{"h":4,"c":0.48,"s":0.5},{"h":6,"c":-0.09,"s":-0.09},{"h":10,"c":-0.12,"s":-0.13},{"h":13,"c":-0.18,"s":-0.19},{"h":17,"c":-0.23,"s":-0.25},{"h":19,"c":-0.04,"s":-0.04},{"h":22,"c":0.43,"s":0.44},{"h":25,"c":0.4,"s":0.4},{"h":28,"c":0.37,"s":0.38},{"h":29,"c":0.07,"s":0.07},{"h":31,"c":-0.01,"s":-0.01},{"h":35,"c":-0.09,"s":-0.1},{"h":38,"c":-0.18,"s":-0.19},{"h":41,"c":-0.15,"s":-0.15},{"h":44,"c":0.29,"s":0.3},{"h":48,"c":0.62,"s":0.66},{"h":51,"c":0.54,"s":0.56},{"h":53,"c":0.24,"s":0.24},{"h":55,"c":0.26,"s":0.26},{"h":58,"c":0.13,"s":0.13},{"h":60,"c":0.18,"s":0.18},{"h":64,"c":0.07,"s":0.08},{"h":66,"c":-0.29,"s":-0.27},{"h":68,"c":0.26,"s":0.26},{"h":72,"c":0.15,"s":0.16},{"h":75,"c":0.07,"s":0.07},{"h":78,"c":-0.37,"s":-0.33},{"h":80,"c":-0.12,"s":-0.12},{"h":84,"c":0.02,"s":0.02},{"h":88,"c":0.24,"s":0.25},{"h":90,"c":-0.37,"s":-0.38},{"h":92,"c":0.26,"s":0.26},{"h":96,"c":0.32,"s":0.31},{"h":100,"c":0.32,"s":0.32},{"h":102,"c":0.24,"s":0.24},{"h":104,"c":0.35,"s":0.36},{"h":108,"c":0.49,"s":0.5},{"h":110,"c":0.29,"s":0.3},{"h":113,"c":-0.15,"s":-0.18},{"h":115,"c":0.29,"s":0.29},{"h":119,"c":0.43,"s":0.44},{"h":122,"c":0.26,"s":0.26},{"h":126,"c":-0.26,"s":-0.27},{"h":130,"c":-0.34,"s":-0.35},{"h":133,"c":-0.23,"s":-0.24},{"h":137,"c":0.18,"s":0.18},{"h":140,"c":0.62,"s":0.64},{"h":143,"c":0.51,"s":0.52},{"h":146,"c":0.07,"s":0.07},{"h":150,"c":-0.37,"s":-0.4},{"h":153,"c":-0.2,"s":-0.2},{"h":155,"c":-0.37,"s":-0.38},{"h":158,"c":-0.4,"s":-0.42},{"h":161,"c":-0.04,"s":-0.04},{"h":164,"c":0.62,"s":0.62},{"h":167,"c":1.01,"s":1.04},{"h":169,"c":0.93,"s":0.94},{"h":173,"c":0.51,"s":0.5},{"h":175,"c":0.79,"s":0.79},{"h":179,"c":0.73,"s":0.72},{"h":181,"c":0.57,"s":0.56},{"h":184,"c":0.62,"s":0.63},{"h":186,"c":0.95,"s":0.97},{"h":188,"c":1.75,"s":1.78},{"h":192,"c":1.86,"s":1.87},{"h":194,"c":1.75,"s":1.74},{"h":196,"c":1.92,"s":1.94},{"h":198,"c":1.5,"s":1.5},{"h":200,"c":0.73,"s":0.72},{"h":203,"c":0.62,"s":0.62},{"h":206,"c":0.54,"s":0.53},{"h":210,"c":0.4,"s":0.38},{"h":212,"c":1.56,"s":1.58},{"h":215,"c":1.61,"s":1.6},{"h":217,"c":1.56,"s":1.56},{"h":220,"c":1.94,"s":1.97},{"h":222,"c":1.45,"s":1.45},{"h":224,"c":0.84,"s":0.83},{"h":228,"c":0.82,"s":0.82},{"h":233,"c":0.93,"s":0.92},{"h":235,"c":1.5,"s":1.5},{"h":239,"c":1.89,"s":1.9},{"h":242,"c":1.86,"s":1.87},{"h":245,"c":1.61,"s":1.6},{"h":248,"c":0.73,"s":0.72},{"h":251,"c":0.51,"s":0.5},{"h":256,"c":0.21,"s":0.19},{"h":259,"c":0.84,"s":0.84},{"h":263,"c":1.34,"s":1.36},{"h":266,"c":1.23,"s":1.23},{"h":269,"c":0.51,"s":0.5},{"h":272,"c":0.48,"s":0.47},{"h":276,"c":0.4,"s":0.39},{"h":280,"c":0.07,"s":0.04},{"h":282,"c":-0.2,"s":-0.25},{"h":284,"c":0.46,"s":0.44},{"h":287,"c":1.12,"s":1.12},{"h":289,"c":0.95,"s":0.94},{"h":292,"c":0.73,"s":0.72},{"h":294,"c":0.32,"s":0.31},{"h":296,"c":0.49,"s":0.49},{"h":299,"c":0.46,"s":0.45},{"h":301,"c":0.57,"s":0.57},{"h":304,"c":0.62,"s":0.62},{"h":306,"c":0.4,"s":0.4},{"h":308,"c":0.84,"s":0.85},{"h":311,"c":1.23,"s":1.24},{"h":313,"c":0.95,"s":0.95},{"h":316,"c":0.93,"s":0.93},{"h":318,"c":0.62,"s":0.61},{"h":320,"c":0.51,"s":0.5},{"h":324,"c":0.62,"s":0.6},{"h":326,"c":0.51,"s":0.5},{"h":330,"c":0.73,"s":0.72},{"h":332,"c":1.23,"s":1.24},{"h":336,"c":1.72,"s":1.74},{"h":339,"c":1.56,"s":1.57},{"h":341,"c":0.79,"s":0.79},{"h":344,"c":0.54,"s":0.53},{"h":348,"c":0.57,"s":0.57},{"h":352,"c":0.43,"s":0.42},{"h":354,"c":0.24,"s":0.22},{"h":356,"c":0.73,"s":0.74},{"h":359,"c":1.34,"s":1.35},{"h":362,"c":1.17,"s":1.17},{"h":365,"c":0.29,"s":0.28},{"h":368,"c":0.18,"s":0.17},{"h":371,"c":0.04,"s":0.03},{"h":373,"c":-0.12,"s":-0.13},{"h":376,"c":0.07,"s":0.07},{"h":378,"c":0.51,"s":0.52},{"h":380,"c":1.06,"s":1.08},{"h":382,"c":1.39,"s":1.4},{"h":384,"c":1.37,"s":1.4}
],
"dg":[
{"h":0,"g":-0.7},{"h":1,"g":-0.04},{"h":4,"g":0.1},{"h":6,"g":0.07},{"h":8,"g":0.4},{"h":12,"g":0.9},{"h":14,"g":0.95},{"h":17,"g":0.84},{"h":19,"g":0.26},{"h":23,"g":0.24},{"h":26,"g":0.1},{"h":29,"g":0.07},{"h":31,"g":0.24},{"h":34,"g":0.68},{"h":37,"g":0.7},{"h":40,"g":0.62},{"h":43,"g":0.35},{"h":46,"g":0.18},{"h":48,"g":0.26},{"h":50,"g":0.15},{"h":53,"g":0.04},{"h":55,"g":0.46},{"h":58,"g":0.73},{"h":61,"g":0.95},{"h":64,"g":1.01},{"h":66,"g":0.68},{"h":68,"g":0.29},{"h":71,"g":-0.04},{"h":73,"g":-0.26},{"h":76,"g":-0.59},{"h":78,"g":-0.81},{"h":80,"g":-0.26},{"h":83,"g":0.51},{"h":85,"g":0.79},{"h":88,"g":0.9},{"h":90,"g":0.18},{"h":92,"g":0.02},{"h":95,"g":0.04},{"h":97,"g":-0.12},{"h":101,"g":-0.12},{"h":103,"g":0.29},{"h":106,"g":1.06},{"h":109,"g":1.67},{"h":112,"g":1.61},{"h":114,"g":1.12},{"h":116,"g":0.73},{"h":119,"g":0.51},{"h":121,"g":0.68},{"h":125,"g":0.26},{"h":127,"g":0.18},{"h":131,"g":0.62},{"h":134,"g":0.73},{"h":138,"g":0.68},{"h":140,"g":1.06},{"h":143,"g":1.01},{"h":145,"g":0.62},{"h":148,"g":0.18},{"h":150,"g":-0.04},{"h":152,"g":0.62},{"h":155,"g":0.98},{"h":158,"g":1.17},{"h":162,"g":1.23},{"h":164,"g":1.34},{"h":167,"g":1.39},{"h":169,"g":1.28},{"h":172,"g":1.15},{"h":174,"g":1.39},{"h":178,"g":1.94},{"h":180,"g":2.22},{"h":182,"g":2.22},{"h":185,"g":2.6},{"h":187,"g":2.82},{"h":190,"g":2.99},{"h":192,"g":3.05},{"h":194,"g":3.35},{"h":196,"g":3.24},{"h":198,"g":1.61},{"h":200,"g":0.73},{"h":204,"g":1.12},{"h":208,"g":1.09},{"h":210,"g":1.39},{"h":212,"g":1.72},{"h":215,"g":2.11},{"h":217,"g":2.33},{"h":220,"g":2.44},{"h":221,"g":2.22},{"h":223,"g":1.5},{"h":226,"g":1.61},{"h":229,"g":1.72},{"h":233,"g":1.75},{"h":235,"g":1.59},{"h":237,"g":1.53},{"h":240,"g":1.06},{"h":243,"g":0.73},{"h":246,"g":1.01},{"h":249,"g":1.12},{"h":252,"g":1.26},{"h":256,"g":1.09},{"h":259,"g":0.98},{"h":263,"g":0.93},{"h":265,"g":0.95},{"h":268,"g":0.82},{"h":270,"g":0.73},{"h":272,"g":1.45},{"h":275,"g":1.59},{"h":278,"g":1.48},{"h":281,"g":0.95},{"h":283,"g":0.84},{"h":286,"g":1.34},{"h":288,"g":1.17},{"h":290,"g":0.62},{"h":293,"g":0.79},{"h":295,"g":0.46},{"h":297,"g":0.73},{"h":300,"g":1.06},{"h":302,"g":0.84},{"h":305,"g":0.82},{"h":307,"g":1.12},{"h":310,"g":1.39},{"h":312,"g":1.06},{"h":315,"g":1.01},{"h":318,"g":1.34},{"h":320,"g":1.23},{"h":323,"g":1.37},{"h":325,"g":1.59},{"h":328,"g":1.5},{"h":330,"g":0.84},{"h":332,"g":1.23},{"h":335,"g":1.42},{"h":338,"g":1.28},{"h":342,"g":1.12},{"h":346,"g":1.61},{"h":348,"g":1.81},{"h":352,"g":1.67},{"h":354,"g":1.39},{"h":356,"g":1.45},{"h":360,"g":1.23},{"h":362,"g":1.06},{"h":365,"g":0.84},{"h":367,"g":0.73},{"h":370,"g":1.17},{"h":372,"g":1.39},{"h":374,"g":1.45},{"h":377,"g":1.34},{"h":379,"g":1.28},{"h":381,"g":1.56},{"h":384,"g":1.56}
],
"db":[
{"h":0,"pl":-0.5,"ph":1.05,"gl":-1.1,"gh":0.57},{"h":6,"pl":-0.7,"ph":0.62,"gl":-0.2,"gh":1.3},{"h":12,"pl":-1.1,"ph":0.5,"gl":0.35,"gh":1.89},{"h":18,"pl":-1.2,"ph":0.95,"gl":0.15,"gh":1.45},{"h":24,"pl":-0.7,"ph":1.34,"gl":-0.4,"gh":0.8},{"h":30,"pl":-0.5,"ph":0.79,"gl":-0.35,"gh":1.3},{"h":36,"pl":-0.85,"ph":0.85,"gl":-0.1,"gh":1.58},{"h":42,"pl":-1.0,"ph":1.3,"gl":-0.1,"gh":1.05},{"h":48,"pl":-0.5,"ph":1.48,"gl":-0.4,"gh":1.23},{"h":54,"pl":-0.5,"ph":0.97,"gl":-0.4,"gh":0.9},{"h":60,"pl":-0.55,"ph":0.84,"gl":-0.55,"gh":1.6},{"h":66,"pl":-1.4,"ph":1.1,"gl":-1.0,"gh":1.6},{"h":72,"pl":-0.75,"ph":1.15,"gl":-1.55,"gh":0.95},{"h":78,"pl":-1.2,"ph":0.84,"gl":-1.45,"gh":1.1},{"h":84,"pl":-0.7,"ph":1.2,"gl":-0.7,"gh":1.7},{"h":90,"pl":-1.4,"ph":1.05,"gl":-1.17,"gh":1.12},{"h":96,"pl":-0.65,"ph":1.15,"gl":-0.75,"gh":0.82},{"h":102,"pl":-0.45,"ph":1.0,"gl":-0.8,"gh":1.2},{"h":108,"pl":-0.45,"ph":1.39,"gl":-0.25,"gh":2.5},{"h":114,"pl":-1.0,"ph":1.2,"gl":-0.45,"gh":1.3},{"h":120,"pl":-0.6,"ph":1.25,"gl":-0.25,"gh":1.15},{"h":126,"pl":-0.9,"ph":1.05,"gl":-0.6,"gh":1.3},{"h":132,"pl":-1.0,"ph":1.0,"gl":-0.4,"gh":1.75},{"h":138,"pl":-0.6,"ph":1.45,"gl":-0.15,"gh":1.98},{"h":144,"pl":-0.5,"ph":1.1,"gl":-0.6,"gh":1.0},{"h":150,"pl":-0.95,"ph":0.68,"gl":-0.96,"gh":1.0},{"h":156,"pl":-1.4,"ph":1.1,"gl":-0.3,"gh":2.2},{"h":162,"pl":-0.9,"ph":1.45,"gl":0.26,"gh":2.38},{"h":168,"pl":-0.6,"ph":1.8,"gl":0.47,"gh":2.22},{"h":174,"pl":-0.5,"ph":1.94,"gl":0.91,"gh":2.1},{"h":180,"pl":-0.4,"ph":1.95,"gl":0.8,"gh":2.7},{"h":186,"pl":-0.4,"ph":2.45,"gl":1.0,"gh":3.6},{"h":192,"pl":0.35,"ph":2.9,"gl":0.8,"gh":4.1},{"h":198,"pl":-0.05,"ph":2.33,"gl":0.4,"gh":3.6},{"h":204,"pl":-0.2,"ph":1.61,"gl":0.2,"gh":2.35},{"h":210,"pl":-0.3,"ph":2.4,"gl":0.6,"gh":3.0},{"h":216,"pl":0.3,"ph":2.6,"gl":0.65,"gh":3.5},{"h":222,"pl":-0.05,"ph":2.3,"gl":0.45,"gh":2.8},{"h":228,"pl":-0.15,"ph":1.7,"gl":0.35,"gh":2.55},{"h":234,"pl":-0.6,"ph":2.49,"gl":0.05,"gh":2.6},{"h":240,"pl":-0.7,"ph":2.85,"gl":-0.3,"gh":1.9},{"h":246,"pl":-0.85,"ph":1.7,"gl":-0.15,"gh":1.38},{"h":252,"pl":-0.75,"ph":1.5,"gl":0.15,"gh":1.9},{"h":258,"pl":-0.55,"ph":2.0,"gl":0.45,"gh":2.1},{"h":264,"pl":-0.4,"ph":2.15,"gl":0.38,"gh":2.1},{"h":270,"pl":-0.55,"ph":1.45,"gl":0.5,"gh":2.4},{"h":276,"pl":-0.8,"ph":1.2,"gl":0.25,"gh":2.55},{"h":282,"pl":-1.3,"ph":1.6,"gl":-0.15,"gh":2.45},{"h":288,"pl":-0.65,"ph":2.1,"gl":0.2,"gh":1.9},{"h":294,"pl":-0.7,"ph":1.35,"gl":0.1,"gh":1.6},{"h":300,"pl":-0.8,"ph":1.5,"gl":0.25,"gh":2.2},{"h":306,"pl":-0.9,"ph":2.0,"gl":0.35,"gh":2.35},{"h":312,"pl":-0.85,"ph":1.9,"gl":0.45,"gh":2.25},{"h":318,"pl":-0.75,"ph":1.55,"gl":0.55,"gh":1.95},{"h":324,"pl":-0.55,"ph":1.85,"gl":0.72,"gh":1.9},{"h":330,"pl":-0.1,"ph":2.3,"gl":0.47,"gh":2.3},{"h":336,"pl":-0.25,"ph":2.6,"gl":0.9,"gh":2.1},{"h":342,"pl":-0.65,"ph":1.65,"gl":0.52,"gh":1.9},{"h":348,"pl":-0.75,"ph":1.56,"gl":0.58,"gh":2.8},{"h":354,"pl":-0.7,"ph":2.2,"gl":0.41,"gh":2.47},{"h":360,"pl":-0.85,"ph":1.75,"gl":0.2,"gh":1.58},{"h":366,"pl":-0.95,"ph":1.15,"gl":0.1,"gh":2.14},{"h":372,"pl":-1.25,"ph":1.17,"gl":0.4,"gh":2.5},{"h":378,"pl":-0.8,"ph":2.2,"gl":0.6,"gh":2.5},{"h":384,"pl":-0.2,"ph":2.4,"gl":0.8,"gh":2.55}
]
},
"columns":1,
"spacing":12,
"align":"none",
"resolve":{"scale":{"color":"independent","strokeDash":"independent"}},
"concat":[
{"spacing":6,"resolve":{"scale":{"color":"independent","strokeDash":"independent"}},"hconcat":[
{
"width":580,"height":378,
"title":{"text":"(a)"},
"data":{"name":"a"},
"encoding":{"x":{"field":"h","type":"quantitative","scale":{"domain":[-14.7,402.7],"nice":false,"zero":false},"axis":{"values":[0,48,96,144,192,240,288,336,384],"labelExpr":"timeFormat(datetime(2021,6,1+datum.value/24),'%b-%d %H')","labelAngle":-30,"labelAlign":"right","labelBaseline":"top","labelFlush":false,"labelOverlap":false,"labelFontSize":11,"title":"Hours: UTC","titleFontSize":11.5,"titlePadding":5}}},
"layer":[
{"mark":{"type":"area","color":"#000000","opacity":0.35},"encoding":{"y":{"field":"kl","type":"quantitative","scale":{"domain":[0.1381,0.2908],"nice":false,"zero":false},"axis":{"values":[0.14,0.16,0.18,0.2,0.22,0.24,0.26,0.28],"format":".2f","labelFontSize":11,"title":"η₁ [mm mm⁻¹]","titleFontSize":13,"titlePadding":6}},"y2":{"field":"ku"}}},
{"mark":{"type":"area","color":"#0000ff","opacity":0.3},"encoding":{"y":{"field":"cl","type":"quantitative","scale":{"domain":[0.1381,0.2908],"nice":false,"zero":false}},"y2":{"field":"cu"}}},
{"mark":{"type":"area","color":"#008000","opacity":0.24},"encoding":{"y":{"field":"dl","type":"quantitative","scale":{"domain":[0.1381,0.2908],"nice":false,"zero":false}},"y2":{"field":"du"}}},
{"mark":{"type":"area","color":"#ff0000","opacity":0.3},"encoding":{"y":{"field":"sl","type":"quantitative","scale":{"domain":[0.1381,0.2908],"nice":false,"zero":false}},"y2":{"field":"su"}}},
{"mark":{"type":"line","color":"#008000","strokeWidth":1.5},"encoding":{"y":{"field":"d","type":"quantitative","scale":{"domain":[0.1381,0.2908],"nice":false,"zero":false}}}},
{"transform":[{"fold":["k2","k1","c2","c1","d","s2","s1"],"as":["k","v"]}],
 "mark":{"type":"line","strokeWidth":1.5},
 "encoding":{
  "y":{"field":"v","type":"quantitative","scale":{"domain":[0.1381,0.2908],"nice":false,"zero":false}},
  "color":{"field":"k","type":"nominal","scale":{"domain":["c2","d","s2","c1","k1","s1","k2"],"range":["#0000ff","#008000","#ff0000","#0000ff","#000000","#ff0000","#000000"]},"legend":{"title":null,"orient":"top-right","labelFontSize":10.5,"symbolSize":256,"rowPadding":0,"padding":4,"labelExpr":"datum.label=='c2'?'η CHN D2':datum.label=='d'?'η\u00a0 DRP D2':datum.label=='s2'?'η\u00a0 SPR D2':datum.label=='c1'?'η CHN D1':datum.label=='k1'?'η\u00a0 CTL D1':datum.label=='s1'?'η\u00a0 SPR D1':'η\u00a0 CTL D2'"}},
  "strokeDash":{"field":"k","type":"nominal","scale":{"domain":["c2","d","s2","c1","k1","s1","k2"],"range":[[5,2.5],[5,2.5],[5,2.5],[1,0],[1,0],[1,0],[5,2.5]]},"legend":{"title":null,"orient":"top-right","labelFontSize":10.5,"symbolSize":256,"rowPadding":0,"padding":4,"labelExpr":"datum.label=='c2'?'η CHN D2':datum.label=='d'?'η\u00a0 DRP D2':datum.label=='s2'?'η\u00a0 SPR D2':datum.label=='c1'?'η CHN D1':datum.label=='k1'?'η\u00a0 CTL D1':datum.label=='s1'?'η\u00a0 SPR D1':'η\u00a0 CTL D2'"}}
 }}
]
},
{
"width":574,"height":378,
"title":{"text":"(b)"},
"data":{"name":"b"},
"mark":{"type":"line","strokeWidth":1.3},
"encoding":{
 "x":{"field":"h","type":"quantitative","scale":{"domain":[-20.3,401.6],"nice":false,"zero":false},"axis":{"values":[0,48,96,144,192,240,288,336,384],"labelExpr":"timeFormat(datetime(2021,6,1+datum.value/24),'%b-%d %H')","labelAngle":-30,"labelAlign":"right","labelBaseline":"top","labelFlush":false,"labelOverlap":false,"labelFontSize":11,"title":"Hours: UTC","titleFontSize":11.5,"titlePadding":5}},
 "y":{"field":"v","type":"quantitative","scale":{"domain":[-0.00393,0.00229],"nice":false,"zero":false},"axis":{"values":[-0.003,-0.002,-0.001,0,0.001,0.002],"labelExpr":"datum.value == 0 ? '0.0' : replace(format(datum.value, '.3f'), '\u2212', '-')","labelFontSize":11,"title":"η₁ [mm mm⁻¹]","titleFontSize":13,"titlePadding":6}},
 "color":{"field":"s","type":"nominal","scale":{"domain":["CHN","DRP","SPR"],"range":["#0000ff","#008000","#ff0000"]},"legend":{"title":null,"orient":"top-right","labelFontSize":10.5,"symbolSize":256,"rowPadding":0,"padding":4,"labelExpr":"datum.label=='CHN'?'δη CHN':datum.label=='DRP'?'δη\u00a0 DRP':'δη SPR'"}}
}
}
]},
{"spacing":6,"resolve":{"scale":{"color":"independent","strokeDash":"independent"}},"hconcat":[
{
"width":583,"height":389,
"title":{"text":"(c)"},
"data":{"name":"c"},
"encoding":{"x":{"field":"h","type":"quantitative","scale":{"domain":[-23.2,403.8],"nice":false,"zero":false},"axis":{"values":[0,48,96,144,192,240,288,336,384],"labelExpr":"timeFormat(datetime(2021,6,1+datum.value/24),'%b-%d %H')","labelAngle":-30,"labelAlign":"right","labelBaseline":"top","labelFlush":false,"labelOverlap":false,"labelFontSize":13.5,"title":"Hours: UTC","titleFontSize":14,"titlePadding":4}}},
"layer":[
{"mark":{"type":"area","color":"#6b2a5e","opacity":0.6,"interpolate":"monotone"},"encoding":{"y":{"field":"lo","type":"quantitative","scale":{"domain":[13.03,36.95],"nice":false,"zero":false},"axis":{"values":[15,20,25,30,35],"format":".1f","labelFontSize":14,"labelPadding":6,"title":"T2 [ᵒC]","titleFontSize":15,"titlePadding":10}},"y2":{"field":"hi"}}},
{"transform":[{"fold":["c1","g1","c2","g2","s2","s1"],"as":["k","v"]}],
 "mark":{"type":"line","strokeWidth":1.6,"interpolate":"monotone"},
 "encoding":{
  "y":{"field":"v","type":"quantitative","scale":{"domain":[13.03,36.95],"nice":false,"zero":false}},
  "color":{"field":"k","type":"nominal","scale":{"domain":["c2","g2","s2","c1","g1","s1"],"range":["#0000ff","#008000","#ff0000","#0000ff","#008000","#ff0000"]},"legend":{"title":null,"orient":"bottom-right","labelFontSize":12.5,"symbolSize":361,"rowPadding":0,"padding":4,"labelOffset":11,"labelExpr":"datum.label=='c2'?'T2 CHN D2':datum.label=='g2'?'T2\u00a0 DRP D2':datum.label=='s2'?'T2\u00a0 SPR D2':datum.label=='c1'?'T2\u00a0 CHN D1':datum.label=='g1'?'T2\u00a0 DRP D1':'T2\u00a0 SPR D1'"}},
  "strokeDash":{"field":"k","type":"nominal","scale":{"domain":["c2","g2","s2","c1","g1","s1"],"range":[[5,2.5],[5,2.5],[5,2.5],[1,0],[1,0],[1,0]]},"legend":{"title":null,"orient":"bottom-right","labelFontSize":12.5,"symbolSize":361,"rowPadding":0,"padding":4,"labelOffset":11,"labelExpr":"datum.label=='c2'?'T2 CHN D2':datum.label=='g2'?'T2\u00a0 DRP D2':datum.label=='s2'?'T2\u00a0 SPR D2':datum.label=='c1'?'T2\u00a0 CHN D1':datum.label=='g1'?'T2\u00a0 DRP D1':'T2\u00a0 SPR D1'"}}
 }}
]
},
{
"width":582,"height":400,
"title":{"text":"(d)"},
"encoding":{"x":{"field":"h","type":"quantitative","scale":{"domain":[-18.8,402.8],"nice":false,"zero":false},"axis":{"values":[0,48,96,144,192,240,288,336,384],"labelExpr":"timeFormat(datetime(2021,6,1+datum.value/24),'%b-%d %H')","labelAngle":-30,"labelAlign":"right","labelBaseline":"top","labelFlush":false,"labelOverlap":false,"labelFontSize":12,"title":"Hours: UTC","titleFontSize":12.5,"titlePadding":4}}},
"layer":[
{"data":{"name":"db"},"mark":{"type":"area","color":"#9a1090","opacity":0.48},"encoding":{"y":{"field":"pl","type":"quantitative","scale":{"domain":[-1.87,4.73],"nice":false,"zero":false},"axis":{"values":[-1,0,1,2,3,4],"labelExpr":"replace(format(datum.value,'.1f'),'\u2212','-')","labelFontSize":13,"title":"T2 [ᵒC]","titleFontSize":13.5,"titlePadding":6}},"y2":{"field":"ph"}}},
{"data":{"name":"db"},"mark":{"type":"area","color":"#008000","opacity":0.2},"encoding":{"y":{"field":"gl","type":"quantitative","scale":{"domain":[-1.87,4.73],"nice":false,"zero":false}},"y2":{"field":"gh"}}},
{"data":{"name":"dg"},"transform":[{"fold":["g"],"as":["k","v"]}],"mark":{"type":"line","strokeWidth":1.5,"strokeDash":[5,3]},"encoding":{"y":{"field":"v","type":"quantitative","scale":{"domain":[-1.87,4.73],"nice":false,"zero":false}},"color":{"field":"k","type":"nominal","scale":{"domain":["c","g","s"],"range":["#0000ff","#008000","#ff0000"]},"legend":{"title":null,"orient":"top-right","labelFontSize":11,"symbolSize":256,"symbolDash":[4,2],"rowPadding":0,"padding":4,"labelExpr":"datum.label=='c'?'δT2 CHN':datum.label=='g'?'δT2\u00a0 DRP':'δT2\u00a0 SPR'"}}}},
{"data":{"name":"dl"},"transform":[{"fold":["c","s"],"as":["k","v"]}],"mark":{"type":"line","strokeWidth":1.5,"strokeDash":[5,3]},"encoding":{"y":{"field":"v","type":"quantitative","scale":{"domain":[-1.87,4.73],"nice":false,"zero":false}},"color":{"field":"k","type":"nominal","scale":{"domain":["c","g","s"],"range":["#0000ff","#008000","#ff0000"]},"legend":{"title":null,"orient":"top-right","labelFontSize":11,"symbolSize":256,"symbolDash":[4,2],"rowPadding":0,"padding":4,"labelExpr":"datum.label=='c'?'δT2 CHN':datum.label=='g'?'δT2\u00a0 DRP':'δT2\u00a0 SPR'"}}}}
]
}
]}
]
}
